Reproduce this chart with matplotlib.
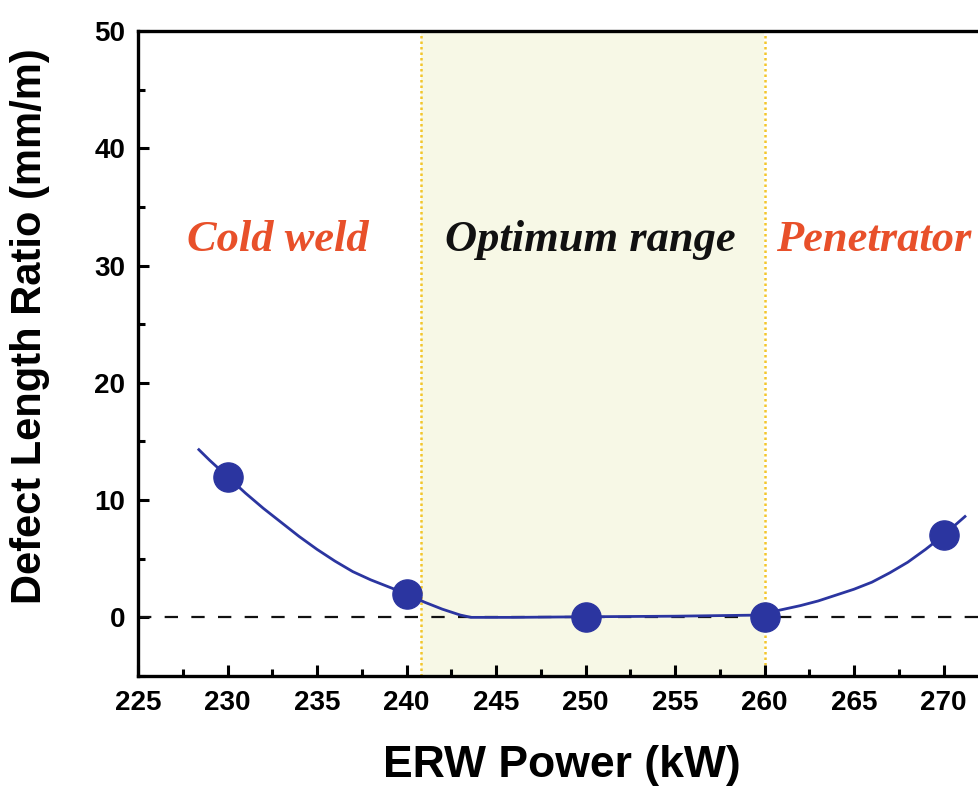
import matplotlib
matplotlib.use("Agg")
import matplotlib.pyplot as plt
from matplotlib.ticker import MultipleLocator

# Data
power_kw = [230, 240, 250, 260, 270]
defect_ratio = [12, 2, 0, 0, 7]

# fitted curve
curve_x = [228.4, 229.0, 230.0, 231.0, 232.0, 233.0, 234.0, 235.0, 236.0, 237.0, 238.0,
           239.0, 240.0, 241.0, 242.0, 243.0, 243.6, 246.0, 250.0, 255.0, 260.0, 260.8,
           262.0, 263.0, 264.0, 265.0, 266.0, 267.0, 268.0, 269.0, 270.0, 271.2]
curve_y = [14.3, 13.4, 12.0, 10.6, 9.3, 8.1, 6.9, 5.8, 4.8, 3.9, 3.2,
           2.6, 2.0, 1.3, 0.7, 0.2, 0.0, 0.0, 0.05, 0.1, 0.2, 0.6,
           1.0, 1.4, 1.9, 2.4, 3.0, 3.8, 4.7, 5.8, 7.0, 8.6]

optimum_range = (240.8, 260.0)
region_labels = ["Cold weld", "Optimum range", "Penetrator"]
region_label_x = [232.8, 250.25, 266.1]
region_label_y = 32.2
region_colors = ["#e8502a", "#111111", "#e8502a"]

W, H = 979, 787
left_px, top_px, bottom_px = 138, 31, 676
ax_w_px = W - left_px + 20
ax_h_px = bottom_px - top_px

fig = plt.figure(figsize=(W / 100, H / 100), dpi=100)
ax = fig.add_axes([left_px / W, 1 - bottom_px / H, ax_w_px / W, ax_h_px / H])

ax.axvspan(optimum_range[0], optimum_range[1], color="#f7f8e6", zorder=0, lw=0)
for xv in optimum_range:
    ax.axvline(xv, color="#f2c62c", ls=(0, (1, 1.2)), lw=1.8, zorder=1)

ax.axhline(0, color="#111111", ls=(0, (6, 6)), lw=1.6, zorder=2)
ax.plot(curve_x, curve_y, color="#2b35a0", lw=2.0, zorder=3)
ax.plot(power_kw, defect_ratio, "o", color="#2b35a0", ms=21, zorder=4)

for lab, xx, cc in zip(region_labels, region_label_x, region_colors):
    ax.text(xx, region_label_y, lab, color=cc, ha="center", va="center",
            family="Liberation Serif", fontweight="bold", style="italic", fontsize=32)

ax.set_xlim(225, 225 + ax_w_px / 17.9)
ax.set_ylim(-5, 50)
ax.xaxis.set_minor_locator(MultipleLocator(2.5))
ax.yaxis.set_minor_locator(MultipleLocator(5))
ax.set_yticks([0, 10, 20, 30, 40, 50])
ax.set_xticks([225, 230, 235, 240, 245, 250, 255, 260, 265, 270])

ax.spines["right"].set_visible(False)
for s in ["left", "bottom", "top"]:
    ax.spines[s].set_linewidth(2.4)
ax.tick_params(which="both", direction="in", width=2.2, top=False, right=False)
ax.tick_params(which="major", length=8)
ax.tick_params(axis="x", which="major", pad=10)
ax.tick_params(axis="y", which="major", pad=9)
ax.tick_params(which="minor", length=5)
for t in ax.get_xticklabels() + ax.get_yticklabels():
    t.set_fontfamily("Liberation Sans")
    t.set_fontweight("bold")
    t.set_fontsize(20)

ax.set_xlabel("ERW Power (kW)", family="Liberation Sans", fontweight="bold", fontsize=32, va="center")
ax.set_ylabel("Defect Length Ratio (mm/m)", family="Liberation Sans", fontweight="bold", fontsize=30, va="center")
ax.xaxis.set_label_coords((562 - left_px) / ax_w_px, -(765 - bottom_px) / ax_h_px)
ax.yaxis.set_label_coords((30 - left_px) / ax_w_px, (bottom_px - 326) / ax_h_px)

fig.savefig("out.png", dpi=100)
